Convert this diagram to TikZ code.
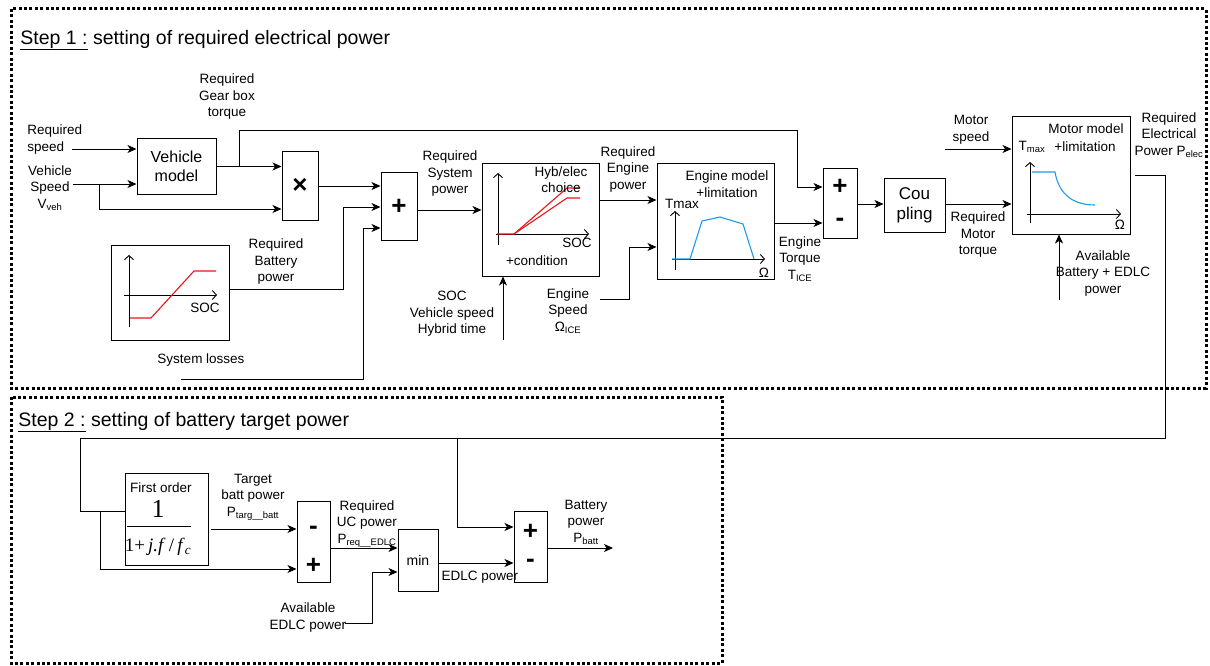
\documentclass[tikz,border=0pt]{standalone}
\usepackage{fontspec}
\setmainfont{Liberation Sans}
\newfontfamily\fracfont{Liberation Serif}
\usepackage{tikz}
\usetikzlibrary{positioning,arrows.meta,calc}
\definecolor{CurveRed}{HTML}{E8151B}
\definecolor{CurveBlue}{HTML}{1E9BE8}

\begin{document}
\begin{tikzpicture}[
  x=1pt, y=-1pt,
  line width=0.9pt,
  blk/.style={draw, line width=1pt, inner sep=0pt, align=center, font=\fontsize{16}{19}\selectfont},
  sgn/.style={inner sep=0pt, font=\fontsize{26}{26}\selectfont\bfseries},
  lbl/.style={align=center, inner sep=0pt, font=\fontsize{13.5}{16.5}\selectfont},
  steptitle/.style={anchor=west, inner sep=0pt, font=\fontsize{19.5}{22}\selectfont},
  stepframe/.style={line width=3pt, dash pattern=on 3pt off 2.4pt},
  arrow/.style={-{Stealth[length=9pt,width=8pt,inset=2.5pt]}},
  axis/.style={line width=0.9pt, -{Straight Barb[length=4pt,width=9pt]}},
  curvered/.style={CurveRed, line width=1.1pt},
  curveblue/.style={CurveBlue, line width=1.1pt}
]
\useasboundingbox (0,0) rectangle (1210,666);

% step frames
\draw[stepframe] (11,9) rectangle (1206,388);
\draw[stepframe] (11,397) rectangle (722,663);
\node[steptitle] (title1) at (20,40) {\underline{Step 1 :} setting of required electrical power};
\node[steptitle] (title2) at (18,422) {\underline{Step 2 :} setting of battery target power};

% step 1 blocks
\node[blk, minimum width=79pt, minimum height=55pt] (veh) at (176.5,166.5) {Vehicle\\model};
\node[blk, minimum width=36pt, minimum height=68pt] (mul) at (300,186) {};
\node[sgn] (multimes) at (300,186) {×};
\node[blk, minimum width=36pt, minimum height=68pt] (sumsys) at (399,206) {};
\node[sgn] (sumsysplus) at (399,207) {+};
\node[blk, minimum width=118pt, minimum height=95pt] (battcurve) at (170,292.5) {};
\node[blk, minimum width=117pt, minimum height=113pt] (hyb) at (540.5,219.5) {};
\node[blk, minimum width=117pt, minimum height=116pt] (engine) at (715.5,221) {};
\node[blk, minimum width=34pt, minimum height=70pt] (sumtq) at (840,203) {};
\node[sgn] (sumtqplus) at (840,187) {+};
\node[sgn] (sumtqminus) at (840,222) {-};
\node[blk, minimum width=61pt, minimum height=54pt, font=\fontsize{17}{20}\selectfont] (coupling) at (914.5,205) {Cou\\pling};
\node[blk, minimum width=118pt, minimum height=117pt] (motor) at (1071,175.5) {};

% battery curve
\draw[axis] (129,327) -- (129,255);
\draw[axis] (124,295) -- (217,295);
\draw[curvered] (130,318) -- (151,318) -- (194,271) -- (216,271);
\node[lbl] (battsoc) at (205,308) {SOC};

% hybrid / electric choice
\draw[axis] (498,245) -- (498,173);
\draw[axis] (496,234) -- (589,234);
\draw[curvered] (497,234) -- (514,234) -- (567,188) -- (580,188);
\draw[curvered] (514,234) -- (567,198) -- (580,198);
\node[lbl] (hybchoice) at (561,179.5) {Hyb/elec\\choice};
\node[lbl] (hybsoc) at (577,243) {SOC};
\node[lbl] (hybcond) at (537,261) {+condition};

% engine map
\draw[axis] (675,270) -- (675,211);
\draw[axis] (672,259) -- (765,259);
\draw[curveblue] (672,259) -- (690,259) -- (702,221) -- (720,217) -- (743,224) -- (754,259);
\node[lbl] (engtitle) at (727,184) {Engine model\\+limitation};
\node[lbl] (engtmax) at (682,204) {Tmax};
\node[lbl] (engomega) at (764,273) {Ω};

% motor map
\draw[axis] (1030,223) -- (1030,162);
\draw[axis] (1027,214) -- (1121,214);
\draw[curveblue] (1032,172) -- (1055,172) .. controls (1059,196) and (1075,205) .. (1095,205);
\node[lbl] (mottitle) at (1086,129) {Motor model};
\node[lbl] (motlim) at (1085,147) {+limitation};
\node[lbl] (mottmax) at (1032,147) {T\textsubscript{max}};
\node[lbl] (motomega) at (1120,225) {Ω};

% step 1 labels
\node[lbl, align=left, anchor=west] (lreqspeed) at (27,139.5) {Required\\speed};
\node[lbl] (lvehspeed) at (50,188) {Vehicle\\Speed\\V\textsubscript{veh}};
\node[lbl] (lgear) at (227,97) {Required\\Gear box\\torque};
\node[lbl] (lbattp) at (276,262) {Required\\Battery\\power};
\node[lbl] (llosses) at (201,360) {System losses};
\node[lbl] (lsysp) at (450,174) {Required\\System\\power};
\node[lbl] (lcond) at (452,314) {SOC\\Vehicle speed\\Hybrid time};
\node[lbl] (lengp) at (628,169.5) {Required\\Engine\\power};
\node[lbl] (lespeed) at (568,311) {Engine\\Speed\\Ω\textsubscript{ICE}};
\node[lbl] (letq) at (800,259) {Engine\\Torque\\T\textsubscript{ICE}};
\node[lbl] (lmspeed) at (971,130) {Motor\\speed};
\node[lbl] (lmtq) at (978,235) {Required\\Motor\\torque};
\node[lbl] (lavail) at (1103,273.5) {Available\\Battery + EDLC\\power};
\node[lbl] (lpelec) at (1169,135) {Required\\Electrical\\Power P\textsubscript{elec}};

% step 1 connectors
\coordinate (reqspeed) at (72,149);
\draw[arrow] (reqspeed) -- (reqspeed -| veh.west);
\coordinate (vehspeed) at (73,184);
\draw[arrow] (vehspeed) -- (vehspeed -| veh.west);
\coordinate (vsplit) at (99,184);
\coordinate (mulin) at (99,209);
\draw[arrow] (vsplit) -- (mulin) -- (mulin -| mul.west);
\draw[arrow] (veh.east) -- (veh.east -| mul.west);
\coordinate (gsplit) at (239,166.5);
\coordinate (gtop) at (797,130);
\coordinate (gin) at (797,187);
\draw[arrow] (gsplit) |- (gtop) -- (gin) -- (gin -| sumtq.west);
\draw[arrow] (mul.east) -- (mul.east -| sumsys.west);
\coordinate (battup) at (343,207);
\draw[arrow] ([yshift=3.5pt]battcurve.east) -| (battup) -- (battup -| sumsys.west);
\coordinate (losses) at (181,379);
\coordinate (lossup) at (363,228);
\draw[arrow] (losses) -| (lossup) -- (lossup -| sumsys.west);
\coordinate (sysp) at (0,210);
\draw[arrow] (sumsys.east |- sysp) -- (hyb.west |- sysp);
\coordinate (cond) at (503,340);
\draw[arrow] (cond) -- (cond |- hyb.south);
\coordinate (engp) at (0,200);
\draw[arrow] (hyb.east |- engp) -- (engine.west |- engp);
\coordinate (espeed) at (600,299);
\coordinate (espeedup) at (629,247);
\draw[arrow] (espeed) -| (espeedup) -- (espeedup -| engine.west);
\coordinate (etq) at (0,223);
\draw[arrow] (engine.east |- etq) -- (sumtq.west |- etq);
\coordinate (ctq) at (0,204);
\draw[arrow] (sumtq.east |- ctq) -- (coupling.west |- ctq);
\draw[arrow] (coupling.east |- ctq) -- (motor.west |- ctq);
\coordinate (mspeed) at (945,149);
\draw[arrow] (mspeed) -- (mspeed -| motor.west);
\coordinate (avail) at (1059,300);
\draw[arrow] (avail) -- (avail |- motor.south);

% step 2 blocks
\node[blk, minimum width=83pt, minimum height=92pt] (firstorder) at (166.5,519) {};
\node[lbl] (fotitle) at (161,488) {First order};
\node[inner sep=0pt, font=\fracfont\fontsize{26}{26}\selectfont] (fonum) at (158,509) {1};
\draw (127,526) -- (191,526);
\node[inner sep=0pt, font=\fracfont\fontsize{19}{19}\selectfont] (foden) at (158,547) {1+\,\textit{j.f}\,/\,\textit{f}\textsubscript{\textit{c}}};
\node[blk, minimum width=33pt, minimum height=81pt] (subuc) at (313.5,541.5) {};
\node[sgn] (subucminus) at (313.5,530) {-};
\node[sgn] (subucplus) at (313.5,566) {+};
\node[blk, minimum width=40pt, minimum height=62pt, font=\fontsize{14}{16}\selectfont] (mindlc) at (418,560) {min};
\node[blk, minimum width=33pt, minimum height=71pt] (sumbatt) at (530.5,546.5) {};
\node[sgn] (sumbattplus) at (530.5,532) {+};
\node[sgn] (sumbattminus) at (530.5,563) {-};

% step 2 labels
\node[lbl] (ltarg) at (253,497) {Target\\batt power\\P\textsubscript{targ\_\_batt}};
\node[lbl] (lucp) at (367,524) {Required\\UC power\\P\textsubscript{req\_\_EDLC}};
\node[lbl] (ledlcp) at (480,577) {EDLC power};
\node[lbl] (lavedlc) at (308,617.5) {Available\\EDLC power};
\node[lbl] (lpbatt) at (586,522) {Battery\\power\\P\textsubscript{batt}};

% electrical power feedback into step 2
\coordinate (pelec) at (1135,175.5);
\coordinate (pright) at (1165,438);
\coordinate (pleft) at (80,438);
\coordinate (foin) at (80,511);
\draw (pelec) -| (pright) -- (pleft) -- (foin) -- (foin -| firstorder.west);

% step 2 connectors
\coordinate (fosplit) at (100,511);
\coordinate (fobelow) at (100,569);
\draw[arrow] (fosplit) -- (fobelow) -- (fobelow -| subuc.west);
\coordinate (bsplit) at (457,438);
\coordinate (bdown) at (457,527);
\draw[arrow] (bsplit) -- (bdown) -- (bdown -| sumbatt.west);
\coordinate (targ) at (211,529);
\draw[arrow] (targ) -- (targ -| subuc.west);
\coordinate (ucp) at (0,548);
\draw[arrow] (subuc.east |- ucp) -- (mindlc.west |- ucp);
\coordinate (availedlc) at (345,623);
\coordinate (aeup) at (372,572);
\draw[arrow] (availedlc) -| (aeup) -- (aeup -| mindlc.west);
\coordinate (edlcp) at (0,563);
\draw[arrow] (mindlc.east |- edlcp) -- (sumbatt.west |- edlcp);
\coordinate (pbatt) at (613,548);
\draw[arrow] (sumbatt.east |- pbatt) -- (pbatt);
\end{tikzpicture}
\end{document}
